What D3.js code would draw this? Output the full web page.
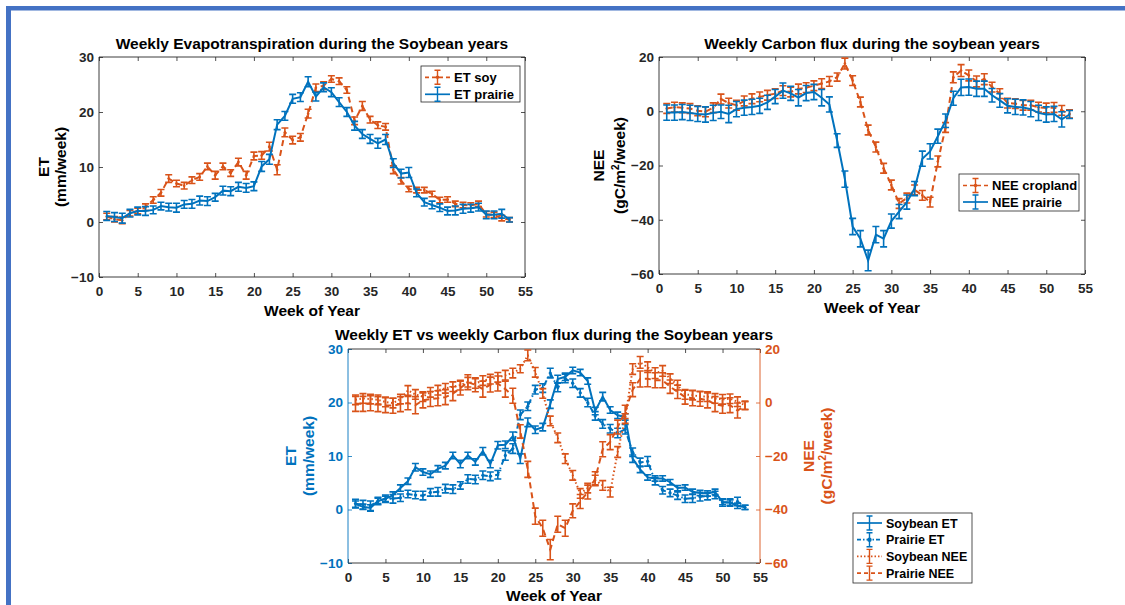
<!DOCTYPE html>
<html>
<head>
<meta charset="utf-8">
<script src="https://cdn.jsdelivr.net/npm/d3@7"></script>
<style>
  body { margin: 0; background: #fff; }
  svg { display: block; font-family: "Liberation Sans", Arial, Helvetica, sans-serif; }
</style>
</head>
<body>
<svg id="fig" width="1125" height="605"></svg>
<script>
// week numbers (x categories)
var weeks = [1,2,3,4,5,6,7,8,9,10,11,12,13,14,15,16,17,18,19,20,21,22,23,24,25,26,27,
             28,29,30,31,32,33,34,35,36,37,38,39,40,41,42,43,44,45,46,47,48,49,50,51,52,53];

// ET (mm/week)
var etSoy = [1.0,0.5,0.3,1.6,2.0,2.7,4.0,5.3,7.9,7.0,6.6,7.6,8.2,10.1,8.5,10.1,8.9,10.9,8.5,12.0,
             12.1,13.7,9.5,16.3,14.9,15.4,19.7,24.4,24.8,26.0,25.6,24.0,18.4,21.1,18.6,17.6,17.3,9.5,7.5,6.0,
             5.8,5.8,5.1,4.0,4.1,3.3,3.1,3.0,3.3,1.4,1.3,0.7,0.4];
var etSoyErr = [0.6,0.5,0.6,0.5,0.5,0.6,0.6,0.6,0.7,0.6,0.6,0.6,0.6,0.6,0.7,0.6,0.6,0.7,0.7,0.7,
                0.7,0.8,0.9,0.8,0.7,0.7,0.8,0.7,0.7,0.6,0.6,0.6,0.7,0.8,0.6,0.6,0.6,0.7,0.6,0.5,
                0.5,0.5,0.5,0.5,0.5,0.5,0.5,0.5,0.5,0.5,0.5,0.5,0.4];
var etPrairie = [1.1,0.9,0.7,1.6,2.0,2.0,2.2,2.9,2.7,2.6,3.2,3.3,3.9,3.8,4.5,5.7,5.6,6.4,6.2,6.5,
                 10.1,11.4,17.7,19.3,22.4,22.7,25.5,22.8,24.5,23.6,21.8,20.0,17.5,16.0,15.1,14.3,15.0,10.7,8.8,9.0,
                 5.3,3.6,3.1,2.6,2.0,2.1,2.4,2.5,2.7,1.3,1.3,1.5,0.4];
var etPrairieErr = [0.8,0.8,0.9,0.7,0.7,0.8,0.7,0.7,0.7,0.8,0.7,0.8,0.8,0.8,0.7,0.8,0.8,0.8,0.8,0.8,
                    0.9,0.9,0.9,0.8,0.8,0.8,0.9,0.8,0.8,0.8,0.8,0.8,0.8,0.8,0.8,0.9,0.9,0.8,0.8,0.9,
                    0.7,0.7,0.7,0.7,0.7,0.8,0.8,0.7,0.7,0.7,0.7,0.8,0.4];

// NEE (gC/m2/week)
var neeCrop = [1.0,1.5,1.3,1.0,0.2,-0.2,1.3,4.5,3.0,2.2,3.8,4.6,5.3,5.9,6.5,7.6,7.1,8.2,8.7,9.4,
               10.2,11.0,12.6,17.6,11.3,3.4,-6.9,-13.2,-21.0,-27.2,-34.0,-32.0,-29.0,-31.0,-33.5,-18.5,-6.0,12.5,15.0,13.2,
               11.0,11.8,8.9,6.5,3.0,2.8,2.2,2.2,1.5,1.2,1.4,0.3,-1.0];
var neeCropErr = [1.8,1.8,1.8,1.8,1.8,1.8,1.8,1.8,1.8,1.8,1.8,1.8,1.8,1.8,1.8,1.8,1.8,1.8,1.8,1.8,
                  1.8,1.8,1.5,2.0,1.8,1.8,1.8,1.8,1.8,1.8,1.8,1.8,1.8,1.8,1.8,2.0,1.8,2.0,2.2,2.0,
                  2.0,2.0,1.8,1.8,1.8,1.8,1.8,1.8,1.8,1.8,1.8,1.8,1.5];
var neePrairie = [-0.5,-0.5,-0.3,-0.6,-1.0,-1.2,-0.6,-0.2,-1.0,0.8,1.3,1.6,2.0,3.3,5.4,7.6,6.6,5.0,6.7,7.1,
                  5.0,2.5,-10.8,-25.0,-42.5,-47.0,-55.0,-45.5,-47.0,-40.5,-37.0,-33.5,-28.5,-17.5,-14.8,-9.2,-3.5,4.8,8.8,8.9,
                  8.3,8.3,5.9,4.0,2.0,1.6,1.4,0.8,-0.6,-1.2,-1.0,-3.0,-1.2];
var neePrairieErr = [2.8,2.8,2.8,2.8,2.8,2.8,2.8,2.5,3.2,2.8,2.8,2.8,2.8,2.6,2.6,2.8,2.6,3.0,2.8,2.8,
                     3.0,2.8,2.5,3.0,3.0,3.0,3.8,3.0,3.0,2.6,2.6,2.6,2.6,2.8,2.8,2.6,2.5,2.6,3.0,3.0,
                     2.8,2.8,2.5,2.5,2.6,2.8,2.8,2.8,2.8,2.8,2.8,2.8,1.5];

var xTicks = [0,5,10,15,20,25,30,35,40,45,50,55];
var etTicks = [-10,0,10,20,30];
var neeTicks = [-60,-40,-20,0,20];

var BLUE = "#0072BD", ORANGE = "#D95319", INK = "#262626";
var svg = d3.select("#fig");

// blue slide frame (top + left)
svg.append("rect").attr("x", 6).attr("y", 6).attr("width", 1119).attr("height", 4.5).attr("fill", "#4472C4");
svg.append("rect").attr("x", 6).attr("y", 6).attr("width", 5).attr("height", 599).attr("fill", "#4472C4");

function pts(vals, errs) {
  return weeks.map(function(w, i) { return {w: w, v: vals[i], e: errs[i]}; });
}

function styleAxis(sel, color, fontSize) {
  sel.select(".domain").remove();
  sel.selectAll(".tick line").attr("stroke", color).attr("stroke-width", 0.8);
  sel.selectAll(".tick text").attr("fill", color).style("font-size", fontSize + "px")
     .style("font-weight", "bold").style("font-family", "Liberation Sans, Arial, sans-serif");
}

// box, inward ticks on all 4 sides
function frame(g, x, y, box, leftColor, rightColor, yR) {
  var b = g.append("g").attr("transform", "translate(0," + box.bottom + ")")
    .call(d3.axisBottom(x).tickValues(xTicks).tickSize(-4).tickPadding(9));
  styleAxis(b, INK, 13.5);
  var t = g.append("g").attr("transform", "translate(0," + box.top + ")")
    .call(d3.axisTop(x).tickValues(xTicks).tickSize(-4).tickFormat(""));
  styleAxis(t, INK, 13.5);
  var l = g.append("g").attr("transform", "translate(" + box.left + ",0)")
    .call(d3.axisLeft(y).tickValues(box.yTicks).tickSize(-4).tickPadding(5));
  styleAxis(l, leftColor, 13.5);
  var r = g.append("g").attr("transform", "translate(" + box.right + ",0)");
  if (yR) {
    r.call(d3.axisRight(yR).tickValues(box.yTicksR).tickSize(-4).tickPadding(5));
  } else {
    r.call(d3.axisRight(y).tickValues(box.yTicks).tickSize(-4).tickFormat(""));
  }
  styleAxis(r, rightColor, 13.5);

  g.append("line").attr("x1", box.left).attr("x2", box.right).attr("y1", box.top).attr("y2", box.top)
    .attr("stroke", INK).attr("stroke-width", 0.9);
  g.append("line").attr("x1", box.left).attr("x2", box.right).attr("y1", box.bottom).attr("y2", box.bottom)
    .attr("stroke", INK).attr("stroke-width", 0.9);
  g.append("line").attr("x1", box.left).attr("x2", box.left).attr("y1", box.top).attr("y2", box.bottom)
    .attr("stroke", leftColor).attr("stroke-width", 0.9);
  g.append("line").attr("x1", box.right).attr("x2", box.right).attr("y1", box.top).attr("y2", box.bottom)
    .attr("stroke", rightColor).attr("stroke-width", 0.9);
}

function series(g, x, y, data, color, dash, marker) {
  var line = d3.line().x(function(d) { return x(d.w); }).y(function(d) { return y(d.v); });
  g.append("path").datum(data).attr("d", line).attr("fill", "none")
    .attr("stroke", color).attr("stroke-width", 2).attr("stroke-dasharray", dash);
  g.append("g").selectAll("path").data(data).enter().append("path")
    .attr("d", function(d) {
      var cx = x(d.w), lo = y(d.v - d.e), hi = y(d.v + d.e);
      return "M" + cx + "," + lo + "V" + hi + "M" + (cx - 3.5) + "," + lo + "H" + (cx + 3.5) +
             "M" + (cx - 3.5) + "," + hi + "H" + (cx + 3.5);
    })
    .attr("fill", "none").attr("stroke", color).attr("stroke-width", 1.6);
  if (marker) {
    g.append("g").selectAll("circle").data(data).enter().append("circle")
      .attr("cx", function(d) { return x(d.w); }).attr("cy", function(d) { return y(d.v); })
      .attr("r", marker).attr("fill", color);
  }
}

function title(g, cx, yb, txt) {
  g.append("text").attr("x", cx).attr("y", yb).attr("text-anchor", "middle")
    .style("font-size", "15.5px").style("font-weight", "bold").attr("fill", "#000").text(txt);
}

function ylabel(g, xb, yc, color, line1, unitsNEE) {
  g.append("text").attr("transform", "translate(" + xb[0] + "," + yc + ") rotate(-90)")
    .attr("text-anchor", "middle").style("font-size", "15.5px").style("font-weight", "bold")
    .attr("fill", color).text(line1);
  var t = g.append("text").attr("transform", "translate(" + xb[1] + "," + yc + ") rotate(-90)")
    .attr("text-anchor", "middle").style("font-size", "15.5px").style("font-weight", "bold")
    .attr("fill", color);
  if (unitsNEE) {
    t.append("tspan").text("(gC/m");
    t.append("tspan").attr("dy", -6).style("font-size", "10px").text("2");
    t.append("tspan").attr("dy", 6).text("/week)");
  } else {
    t.text("(mm/week)");
  }
}

function legend(g, box, rows, fs) {
  g.append("rect").attr("x", box.x).attr("y", box.y).attr("width", box.w).attr("height", box.h)
    .attr("fill", "#fff").attr("stroke", INK).attr("stroke-width", 0.8);
  rows.forEach(function(r, i) {
    var cy = box.y + box.first + i * box.step, x0 = box.x + 4, x1 = box.x + 29, mx = (x0 + x1) / 2;
    g.append("line").attr("x1", x0).attr("x2", x1).attr("y1", cy).attr("y2", cy)
      .attr("stroke", r.color).attr("stroke-width", 1.7).attr("stroke-dasharray", r.dash);
    g.append("path").attr("d", "M" + mx + "," + (cy - 7) + "V" + (cy + 7) + "M" + (mx - 3) + "," + (cy - 7) +
        "H" + (mx + 3) + "M" + (mx - 3) + "," + (cy + 7) + "H" + (mx + 3))
      .attr("stroke", r.color).attr("stroke-width", 1.4).attr("fill", "none");
    if (r.marker) g.append("circle").attr("cx", mx).attr("cy", cy).attr("r", r.marker).attr("fill", r.color);
    g.append("text").attr("x", box.x + 33).attr("y", cy + 4.6).style("font-size", fs + "px")
      .style("font-weight", "bold").attr("fill", "#000").text(r.label);
  });
}

// ---- panel 1: ET ----
var b1 = {left: 99, right: 525, top: 57, bottom: 277, yTicks: etTicks};
var x1 = d3.scaleLinear().domain([0, 55]).range([b1.left, b1.right]);
var y1 = d3.scaleLinear().domain([-10, 30]).range([b1.bottom, b1.top]);
var g1 = svg.append("g");
frame(g1, x1, y1, b1, INK, INK);
series(g1, x1, y1, pts(etSoy, etSoyErr), ORANGE, "6,4", 1.3);
series(g1, x1, y1, pts(etPrairie, etPrairieErr), BLUE, null, 0);
title(g1, (b1.left + b1.right) / 2, 49, "Weekly Evapotranspiration during the Soybean years");
g1.append("text").attr("x", (b1.left + b1.right) / 2).attr("y", 316).attr("text-anchor", "middle")
  .style("font-size", "15.5px").style("font-weight", "bold").text("Week of Year");
ylabel(g1, [49, 65.5], (b1.top + b1.bottom) / 2, "#000", "ET", false);
legend(g1, {x: 421, y: 66, w: 99, h: 36, first: 11.3, step: 17}, [
  {label: "ET soy", color: ORANGE, dash: "4,3", marker: 1.8},
  {label: "ET prairie", color: BLUE, dash: null}
], 13);

// ---- panel 2: NEE ----
var b2 = {left: 659, right: 1085, top: 57, bottom: 274, yTicks: neeTicks};
var x2 = d3.scaleLinear().domain([0, 55]).range([b2.left, b2.right]);
var y2 = d3.scaleLinear().domain([-60, 20]).range([b2.bottom, b2.top]);
var g2 = svg.append("g");
frame(g2, x2, y2, b2, INK, INK);
series(g2, x2, y2, pts(neeCrop, neeCropErr), ORANGE, "6,4", 1.3);
series(g2, x2, y2, pts(neePrairie, neePrairieErr), BLUE, null, 0);
title(g2, (b2.left + b2.right) / 2, 49, "Weekly Carbon flux during the soybean years");
g2.append("text").attr("x", (b2.left + b2.right) / 2).attr("y", 313).attr("text-anchor", "middle")
  .style("font-size", "15.5px").style("font-weight", "bold").text("Week of Year");
ylabel(g2, [604, 625], (b2.top + b2.bottom) / 2, "#000", "NEE", true);
legend(g2, {x: 959, y: 174, w: 120, h: 37, first: 11.5, step: 16.5}, [
  {label: "NEE cropland", color: ORANGE, dash: "4,3", marker: 1.8},
  {label: "NEE prairie", color: BLUE, dash: null}
], 13);

// ---- panel 3: ET vs NEE, two y axes ----
var b3 = {left: 348, right: 760, top: 349, bottom: 563, yTicks: etTicks, yTicksR: neeTicks};
var x3 = d3.scaleLinear().domain([0, 55]).range([b3.left, b3.right]);
var y3 = d3.scaleLinear().domain([-10, 30]).range([b3.bottom, b3.top]);
var y3r = d3.scaleLinear().domain([-60, 20]).range([b3.bottom, b3.top]);
var g3 = svg.append("g");
frame(g3, x3, y3, b3, BLUE, ORANGE, y3r);
series(g3, x3, y3, pts(etSoy, etSoyErr), BLUE, null, 0);
series(g3, x3, y3, pts(etPrairie, etPrairieErr), BLUE, "6,3,1.5,3", 1.6);
series(g3, x3, y3r, pts(neeCrop, neeCropErr), ORANGE, "1.5,2.5", 0);
series(g3, x3, y3r, pts(neePrairie, neePrairieErr), ORANGE, "6,4", 0);
title(g3, (b3.left + b3.right) / 2, 340, "Weekly ET vs weekly Carbon flux during the Soybean years");
g3.append("text").attr("x", (b3.left + b3.right) / 2).attr("y", 601).attr("text-anchor", "middle")
  .style("font-size", "15.5px").style("font-weight", "bold").text("Week of Year");
ylabel(g3, [296, 314], (b3.top + b3.bottom) / 2, BLUE, "ET", false);
ylabel(g3, [814, 832], (b3.top + b3.bottom) / 2, ORANGE, "NEE", true);
legend(g3, {x: 853, y: 513, w: 119, h: 70, first: 10, step: 16.7}, [
  {label: "Soybean ET", color: BLUE, dash: null},
  {label: "Prairie ET", color: BLUE, dash: "4,2,1.5,2", marker: 2.2},
  {label: "Soybean NEE", color: ORANGE, dash: "1.5,2"},
  {label: "Prairie NEE", color: ORANGE, dash: "4,3"}
], 12.5);
</script>
</body>
</html>
